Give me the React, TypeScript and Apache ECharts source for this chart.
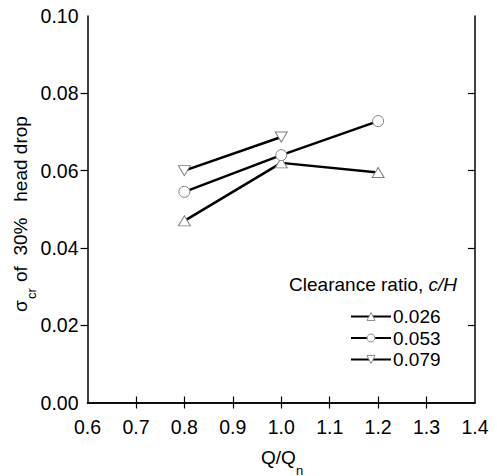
import React, { useEffect, useRef } from "react";
import * as echarts from "echarts";

const xValues = [0.8, 1.0, 1.2];
const series026 = [0.047, 0.062, 0.0595];
const series053 = [0.0545, 0.064, 0.0728];
const series079 = [0.060, 0.0687];
const seriesNames = ["0.026", "0.053", "0.079"];
const xTicks = [0.7, 0.8, 0.9, 1.0, 1.1, 1.2, 1.3];
const yTicks = [0.02, 0.04, 0.06, 0.08];

const FONT = "'Liberation Sans', Arial, sans-serif";

function pairs(vals: number[]) {
  return vals.map((v, i) => [xValues[i], v]);
}

export default function App() {
  const ref = useRef<HTMLDivElement>(null);
  useEffect(() => {
    if (!ref.current) return;
    const chart = echarts.init(ref.current, null, { renderer: "svg" });
    const axisLine = { show: true, lineStyle: { color: "#000", width: 1.5 } };
    const markerStyle = { color: "#fff", borderColor: "#808080", borderWidth: 1 };
    const lineStyle = { color: "#000", width: 2.5 };
    const grid = { left: 87.5, right: 22, top: 16, bottom: 73.5 };
    chart.setOption({
      animation: false,
      backgroundColor: "#fff",
      textStyle: { fontFamily: FONT },
      grid,
      xAxis: [
        {
          type: "value",
          position: "bottom",
          min: 0.6,
          max: 1.4,
          interval: 0.1,
          axisLine,
          axisTick: { show: true, inside: true, length: 6, customValues: xTicks, lineStyle: { color: "#000", width: 1.2 } },
          axisLabel: { color: "#000", fontSize: 19.5, fontFamily: FONT, margin: 14, formatter: (v: number) => v.toFixed(1) },
          splitLine: { show: false },
        },
        {
          type: "value",
          position: "top",
          min: 0.6,
          max: 1.4,
          interval: 0.1,
          axisLine,
          axisTick: { show: true, inside: true, length: 6, customValues: xTicks, lineStyle: { color: "#000", width: 1.2 } },
          axisLabel: { show: false },
          splitLine: { show: false },
        },
      ],
      yAxis: [
        {
          type: "value",
          position: "left",
          min: 0,
          max: 0.1,
          interval: 0.02,
          axisLine,
          axisTick: { show: true, inside: false, length: 7, customValues: yTicks, lineStyle: { color: "#000", width: 1.2 } },
          axisLabel: { color: "#000", fontSize: 19.5, fontFamily: FONT, margin: 9, padding: [5, 0, 0, 0], formatter: (v: number) => v.toFixed(2) },
          splitLine: { show: false },
        },
        {
          type: "value",
          position: "right",
          min: 0,
          max: 0.1,
          interval: 0.02,
          axisLine,
          axisTick: { show: true, inside: true, length: 7, customValues: yTicks, lineStyle: { color: "#000", width: 1.2 } },
          axisLabel: { show: false },
          splitLine: { show: false },
        },
      ],
      legend: {
        orient: "vertical",
        left: 350,
        top: 307,
        padding: 0,
        itemWidth: 40,
        itemHeight: 10,
        itemGap: 2.5,
        itemStyle: { color: "#fff", borderColor: "#909090", borderWidth: 1 },
        lineStyle: { color: "#000", width: 2 },
        textStyle: { color: "#000", fontSize: 19, fontFamily: FONT, padding: [0, 0, 0, -3] },
        data: seriesNames,
      },
      series: [
        {
          name: seriesNames[0],
          type: "line",
          data: pairs(series026),
          symbol: "triangle",
          symbolSize: [12, 10],
          lineStyle,
          itemStyle: markerStyle,
          z: 3,
        },
        {
          name: seriesNames[1],
          type: "line",
          data: pairs(series053),
          symbol: "circle",
          symbolSize: 11,
          lineStyle,
          itemStyle: markerStyle,
          z: 4,
        },
        {
          name: seriesNames[2],
          type: "line",
          data: pairs(series079),
          symbol: "triangle",
          symbolRotate: 180,
          symbolSize: [12, 10],
          lineStyle,
          itemStyle: markerStyle,
          z: 3,
        },
      ],
      graphic: [
        {
          type: "text",
          right: 497 - 457,
          top: 275,
          style: {
            text: "{a|Clearance ratio, }{b|c/H}",
            fill: "#000",
            rich: {
              a: { fontSize: 19, fontFamily: FONT, fill: "#000" },
              b: { fontSize: 19, fontFamily: FONT, fontStyle: "italic", fill: "#000" },
            },
          },
        },
        {
          type: "text",
          x: 261,
          y: 457,
          style: { text: "Q/Q", fontSize: 19, fontFamily: FONT, fill: "#000", verticalAlign: "middle", align: "left" },
        },
        {
          type: "text",
          x: 296,
          y: 470,
          style: { text: "n", fontSize: 13, fontFamily: FONT, fill: "#000", verticalAlign: "middle", align: "left" },
        },
        {
          type: "group",
          x: 27,
          y: 312,
          rotation: Math.PI / 2,
          children: [
            { type: "text", x: 0, y: -6.5, style: { text: "σ", fontSize: 19, fontFamily: FONT, fill: "#000", verticalAlign: "middle", align: "left" } },
            { type: "text", x: 13, y: 4, style: { text: "cr", fontSize: 13, fontFamily: FONT, fill: "#000", verticalAlign: "middle", align: "left" } },
            { type: "text", x: 30, y: -6.5, style: { text: "of  30%   head drop", fontSize: 19, fontFamily: FONT, fill: "#000", verticalAlign: "middle", align: "left" } },
          ],
        },
      ],
    });
    return () => chart.dispose();
  }, []);
  return <div ref={ref} style={{ width: 497, height: 476, position: "absolute", left: 0, top: 0 }} />;
}
